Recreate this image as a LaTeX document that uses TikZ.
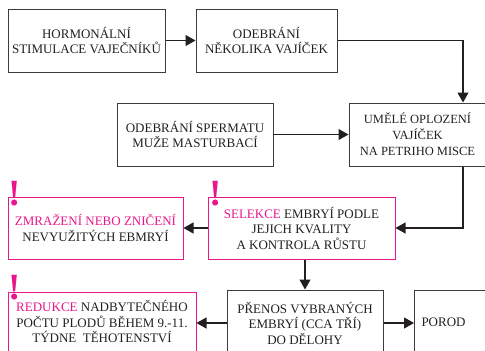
\documentclass[tikz,border=0pt]{standalone}
\usepackage{fontspec}
\setmainfont{Liberation Serif}
\usetikzlibrary{arrows.meta}
\definecolor{pInk}{RGB}{35,31,32}
\definecolor{pLine}{RGB}{60,60,60}
\definecolor{pMagenta}{RGB}{232,22,140}
\tikzset{
    box/.style={draw=pLine, line width=1pt, text=pInk, align=center, inner sep=0pt, font=\fontsize{13}{15.5}\selectfont},
    pbox/.style={box, draw=pMagenta},
    arr/.style={-{Triangle[length=10pt,width=11pt]}, line width=1.1pt, draw=pInk},
    excl/.style={anchor=base, inner sep=0pt, text=pMagenta, font=\fontsize{37}{37}\selectfont\bfseries}
}
\newcommand{\pk}[1]{\textcolor{pMagenta}{#1}}

\begin{document}
\begin{tikzpicture}[x=1pt,y=-1pt]
\useasboundingbox (0,0) rectangle (485,351);
\clip (0,0) rectangle (485,351);
% upper row
\node[box, minimum width=157pt, minimum height=63pt] (horm) at (86.5,40.5) {HORMONÁLNÍ\\STIMULACE VAJEČNÍKŮ};
\node[box, minimum width=141pt, minimum height=63pt] (odeb) at (266.5,40.5) {ODEBRÁNÍ\\NĚKOLIKA VAJÍČEK};
\node[box, minimum width=156pt, minimum height=63pt] (sperm) at (195,134.5) {ODEBRÁNÍ SPERMATU\\MUŽE MASTURBACÍ};
\node[box, minimum width=137pt, minimum height=63pt, font=\fontsize{12.5}{16}\selectfont] (umele) at (417.5,134.5) {UMĚLÉ OPLOZENÍ\\VAJÍČEK\\NA PETRIHO MISCE};
% pink row
\node[pbox, minimum width=175pt, minimum height=62pt] (zmraz) at (95.5,228) {\pk{ZMRAŽENÍ NEBO ZNIČENÍ}\\NEVYUŽITÝCH EBMRYÍ};
\node[pbox, minimum width=187pt, minimum height=62pt] (selek) at (301.5,228) {\pk{SELEKCE} EMBRYÍ PODLE\\JEJICH KVALITY\\A KONTROLA RŮSTU};
% bottom row
\node[pbox, minimum width=188pt, minimum height=60pt] (redu) at (102,322) {\pk{REDUKCE} NADBYTEČNÉHO\\POČTU PLODŮ BĚHEM 9.-11.\\TÝDNE~~TĚHOTENSTVÍ};
\node[box, minimum width=156pt, minimum height=66pt] (pren) at (305,323) {PŘENOS VYBRANÝCH\\EMBRYÍ (CCA TŘÍ)\\DO DĚLOHY};
\node[box, anchor=west, text width=92pt, align=left, inner xsep=7pt, minimum height=64pt] (porod) at (414,322) {POROD};
% exclamation marks
\node[excl] (e1) at (15,205) {!};
\node[excl] (e2) at (216,205) {!};
\node[excl] (e3) at (15,299) {!};
% arrows
\draw[arr] (horm) -- (odeb);
\draw[arr] (odeb.east) -| ([xshift=45.5pt]umele.north);
\draw[arr] (sperm) -- (umele);
\draw[arr] ([xshift=45.5pt]umele.south) |- (selek.east);
\draw[arr] (selek) -- (zmraz);
\draw[arr] (selek.south -| pren.north) -- (pren.north);
\draw[arr] (pren.west) -- (pren.west -| redu.east);
\draw[arr] (pren.east) -- (pren.east -| porod.west);
\end{tikzpicture}
\end{document}
